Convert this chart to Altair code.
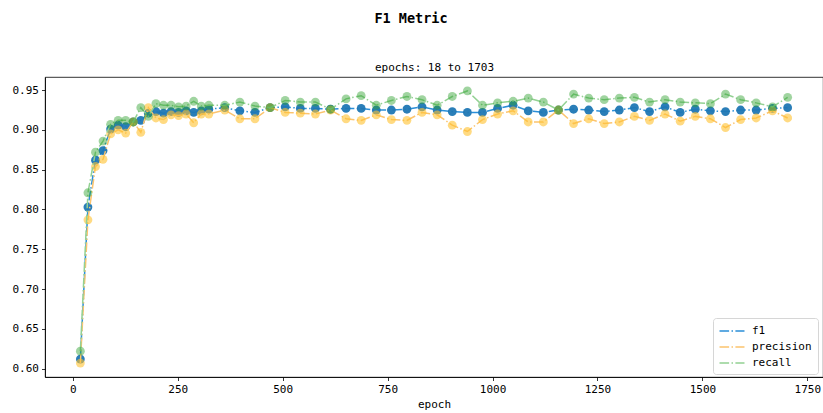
import altair as alt
import pandas as pd

epochs = [18, 36, 54, 72, 90, 108, 126, 144, 162, 180, 198, 216, 234, 252, 270, 288, 306, 324,
          362, 398, 434, 470, 506, 542, 578, 614, 651, 687, 723, 759, 796, 832, 868, 904, 940, 976,
          1012, 1049, 1085, 1121, 1157, 1193, 1229, 1266, 1302, 1338, 1374, 1411, 1447, 1483,
          1519, 1555, 1591, 1628, 1667, 1703]

f1 = [0.612, 0.803, 0.862, 0.874, 0.901, 0.906, 0.904, 0.910, 0.912, 0.921, 0.923, 0.921, 0.923, 0.922, 0.924, 0.922, 0.924, 0.926,
      0.928, 0.924, 0.922, 0.928, 0.929, 0.927, 0.927, 0.926, 0.927, 0.927, 0.925, 0.925, 0.926, 0.929, 0.925, 0.923, 0.922, 0.922,
      0.927, 0.931, 0.924, 0.922, 0.925, 0.926, 0.925, 0.923, 0.925, 0.928, 0.923, 0.929, 0.922, 0.926, 0.924, 0.923, 0.925, 0.925,
      0.927, 0.928]

precision = [0.607, 0.787, 0.854, 0.863, 0.895, 0.900, 0.896, 0.910, 0.897, 0.928, 0.915, 0.913, 0.919, 0.918, 0.920, 0.909, 0.920, 0.920,
             0.925, 0.914, 0.914, 0.928, 0.922, 0.921, 0.920, 0.925, 0.914, 0.912, 0.919, 0.913, 0.912, 0.922, 0.919, 0.906, 0.898, 0.913,
             0.920, 0.924, 0.910, 0.910, 0.925, 0.908, 0.914, 0.908, 0.910, 0.917, 0.912, 0.920, 0.911, 0.917, 0.914, 0.903, 0.913, 0.915,
             0.924, 0.915]

recall = [0.622, 0.821, 0.872, 0.886, 0.907, 0.912, 0.912, 0.910, 0.928, 0.917, 0.933, 0.931, 0.931, 0.929, 0.930, 0.936, 0.930, 0.931,
          0.931, 0.935, 0.930, 0.928, 0.937, 0.935, 0.935, 0.926, 0.939, 0.943, 0.931, 0.937, 0.942, 0.938, 0.931, 0.942, 0.949, 0.931,
          0.934, 0.936, 0.940, 0.935, 0.925, 0.945, 0.940, 0.938, 0.940, 0.941, 0.935, 0.938, 0.935, 0.934, 0.933, 0.945, 0.938, 0.934,
          0.929, 0.941]

series = ["f1", "precision", "recall"]
x_ticks = [0, 250, 500, 750, 1000, 1250, 1500, 1750]
y_ticks = [0.60, 0.65, 0.70, 0.75, 0.80, 0.85, 0.90, 0.95]

line_colors = ["#2b8fd8", "#fcc46e", "#93d193"]
point_colors = ["#1f77b4", "#ffc22e", "#2ca02c"]
point_opacity = [0.95, 0.6, 0.45]

FONT = "DejaVu Sans Mono"
DASH = [9.6, 2.4, 1.5, 2.4]

df = pd.DataFrame({"epoch": epochs, "f1": f1, "precision": precision, "recall": recall})
long = df.melt("epoch", var_name="series", value_name="value")

x_enc = alt.X("epoch:Q",
              scale=alt.Scale(domain=[-66.25, 1787.25], nice=False, zero=False),
              axis=alt.Axis(values=x_ticks, title="epoch", format="d"))
y_enc = alt.Y("value:Q",
              scale=alt.Scale(domain=[0.5895, 0.9665], nice=False, zero=False),
              axis=alt.Axis(values=y_ticks, format=".2f", title="epochs: 18 to 1703",
                            titleAngle=0, titleX=389, titleY=-10, titleAlign="center",
                            titleBaseline="middle", titleFontWeight="normal", titleFontSize=11))

base = alt.Chart(long)
layers = []
for i, s in enumerate(series):
    sub = base.transform_filter(alt.datum.series == s)
    line = sub.mark_line(strokeDash=DASH, strokeWidth=1.5).encode(
        x=x_enc, y=y_enc,
        color=alt.Color("series:N", sort=series,
                        scale=alt.Scale(domain=series, range=line_colors),
                        legend=alt.Legend(title=None, orient="none", legendX=668, legendY=241,
                                          symbolType="M-2,0L2,0", symbolSize=156,
                                          symbolStrokeWidth=1.5, symbolDash=DASH,
                                          symbolOffset=6, labelOffset=13,
                                          labelFont=FONT, labelFontSize=11, labelColor="#000",
                                          padding=6, rowPadding=4,
                                          fillColor="white", strokeColor="#d6d6d6",
                                          cornerRadius=3)),
        order="epoch:Q")
    pts = sub.mark_circle(size=78, opacity=point_opacity[i], color=point_colors[i]).encode(
        x=x_enc, y=y_enc)
    layers += [line, pts]

chart = alt.layer(*layers).properties(
    width=778, height=300,
    title=alt.Title("F1 Metric", font=FONT, fontSize=13.5, fontWeight="bold",
                    color="#000", anchor="middle", offset=36, dx=-23),
    autosize=alt.AutoSizeParams(type="none"),
    padding={"left": 45, "top": 77, "right": 0, "bottom": 36},
    background="white",
).configure_view(
    stroke="#000", strokeWidth=0.8
).configure_axis(
    grid=False, domainColor="#000", domainWidth=0.8, tickColor="#000", tickWidth=0.8,
    tickSize=3.5, labelFont=FONT, labelFontSize=11, labelColor="#000", labelPadding=3,
    titleFont=FONT, titleFontSize=11, titleFontWeight="normal", titleColor="#000",
    titlePadding=4
)

chart.save("out.html", embed_options={"renderer": "svg", "actions": False})
